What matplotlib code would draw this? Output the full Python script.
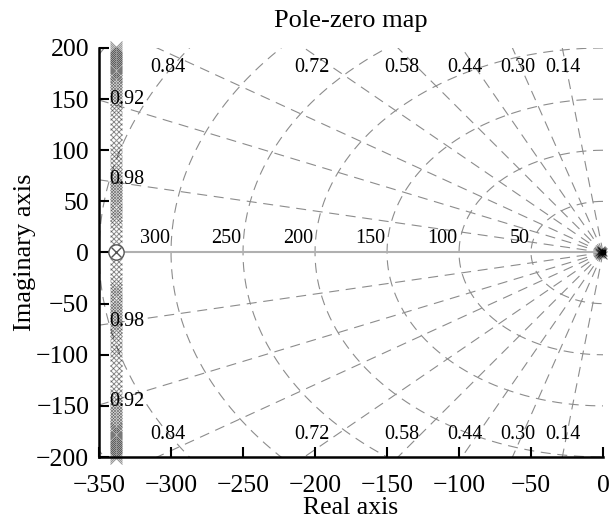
import numpy as np
import matplotlib
matplotlib.use('Agg')
import matplotlib.pyplot as plt

plt.rcParams['font.family'] = ['Liberation Serif', 'DejaVu Serif']

# damping ratios and natural frequencies of the s-plane grid
zetas = [0.14, 0.30, 0.44, 0.58, 0.72, 0.84, 0.92, 0.98]
wns = [50, 100, 150, 200, 250, 300, 350, 400]
wn_labels = [50, 100, 150, 200, 250, 300]

# label positions for damping values
zeta_top_x = [-27.8, -59, -95.8, -139.6, -202, -302]
zeta_top_lbl = ['0.14', '0.30', '0.44', '0.58', '0.72', '0.84']
zeta_left_y = [150, 71.6]
zeta_left_lbl = ['0.92', '0.98']

# poles: column at Re = -338, imaginary parts (upper half, conjugates mirrored)
col_re = -338
col_im = [201, 199, 197, 195, 193, 191, 189, 187, 185, 183, 181, 179, 177,
          175, 173, 171, 168, 165, 162, 159, 156, 153, 150, 147, 143, 139,
          135, 131, 126, 121, 116, 110, 105, 100, 96, 92, 88, 84, 80, 76,
          73, 70, 67, 64, 61, 58, 55, 52, 49, 46, 43, 40, 37, 34, 30, 26,
          21, 16, 11, 6]
# poles clustered at the origin
orig_re = [-0.3, -0.8, -1.2, -1.6, -2.0, -2.5, -0.5, -1.0, -1.5, -0.2]
orig_im = [0.0, 0.5, -0.5, 1.0, -1.0, 0.0, 1.5, -1.5, 2.0, -2.0]
# zero
zero_re = [-338]
zero_im = [0]

fig = plt.figure(figsize=(6.09, 5.25), dpi=100)
ax = fig.add_axes([0.1626, 0.1295, 0.8276, 0.7791])

gcol = '#8c8c8c'
dash = (0, (9, 6))
R = 600
for z in zetas:
    th = np.arccos(z)
    for s in (1, -1):
        ax.plot([0, -R * np.cos(th)], [0, s * R * np.sin(th)], color=gcol,
                lw=0.8, linestyle=dash, zorder=1)
t = np.linspace(np.pi / 2, 3 * np.pi / 2, 400)
for w in wns:
    ax.plot(w * np.cos(t), w * np.sin(t), color=gcol, lw=0.8, linestyle=dash,
            zorder=1)

gfs = 14.5
for w in wn_labels:
    ax.text(-w - 1, 4, str(w), ha='right', va='bottom', fontsize=gfs)
for xx, lb in zip(zeta_top_x, zeta_top_lbl):
    ax.text(xx, 181, lb, ha='center', va='center', fontsize=gfs)
    ax.text(xx, -178, lb, ha='center', va='center', fontsize=gfs)
for yy, lb in zip(zeta_left_y, zeta_left_lbl):
    ax.text(-331, yy, lb, ha='center', va='center', fontsize=gfs)
    ax.text(-331, -yy + 4, lb, ha='center', va='center', fontsize=gfs)

# real axis line
ax.plot([col_re, 0], [0, 0], color='#b0b0b0', lw=1.5, zorder=2)

im_all = np.array(col_im + [-v for v in col_im])
ax.plot(np.full(len(im_all), col_re), im_all, 'x', color='k', alpha=0.42,
        ms=9, mew=0.75, clip_on=False, zorder=3)
ax.plot(orig_re, orig_im, 'x', color='k', alpha=0.5, ms=6, mew=0.8,
        clip_on=False, zorder=3)
ax.plot(zero_re, zero_im, 'o', mfc='white', mec='#555555', ms=11, mew=1.0,
        zorder=4)
ax.plot(zero_re, zero_im, 'x', color='#555555', ms=7, mew=1.0, zorder=5)
ax.plot([0], [0], 's', color='k', ms=3, clip_on=False, zorder=5)

ax.set_xlim(-350, 0)
ax.set_ylim(-200, 200)
ax.set_xticks(np.arange(-350, 1, 50))
ax.set_yticks(np.arange(-200, 201, 50))
ax.tick_params(direction='in', length=7, width=1.5, labelsize=18.5)
ax.tick_params(axis='x', pad=13)
ax.tick_params(axis='y', pad=7)
for sp in ['top', 'right']:
    ax.spines[sp].set_visible(False)
for sp in ['left', 'bottom']:
    ax.spines[sp].set_linewidth(1.8)

ax.set_title('Pole-zero map', fontsize=19, pad=15)
ax.set_xlabel('Real axis', fontsize=18.5, labelpad=0)
ax.set_ylabel('Imaginary axis', fontsize=19, labelpad=0)

fig.savefig('out.png', dpi=100)
